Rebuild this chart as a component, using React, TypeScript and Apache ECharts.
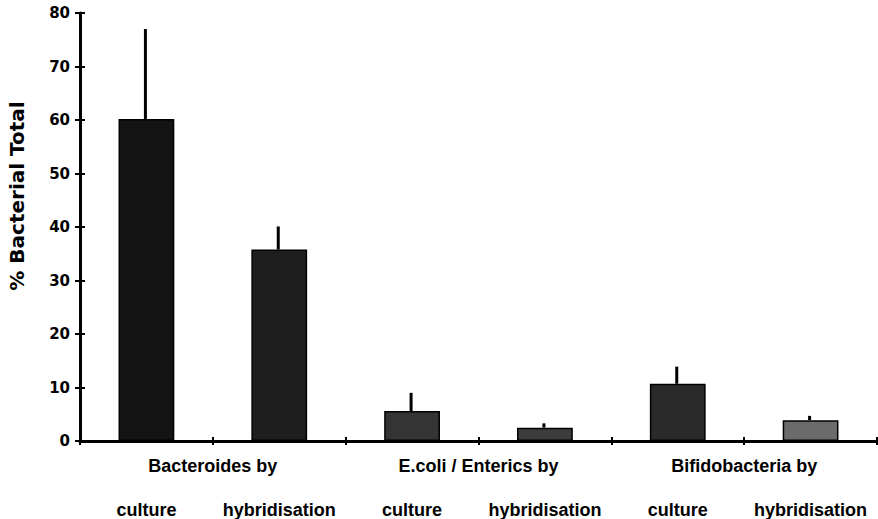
import React, { useEffect, useRef } from "react";
import * as echarts from "echarts";

const categories = ["culture", "hybridisation", "culture", "hybridisation", "culture", "hybridisation"];
const groups = ["Bacteroides by", "E.coli / Enterics by", "Bifidobacteria by"];
const means = [60.2, 35.8, 5.6, 2.5, 10.7, 3.9];
const errorTops = [77.0, 40.1, 9.0, 3.3, 13.9, 4.7];
const yTicks = [0, 10, 20, 30, 40, 50, 60, 70, 80];
const barColors = ["#141414", "#1e1e1e", "#343434", "#3c3c3c", "#2a2a2a", "#6b6b6b"];

export default function App() {
  const ref = useRef<HTMLDivElement>(null);
  useEffect(() => {
    document.body.style.margin = "0";
    const chart = echarts.init(ref.current!, null, { renderer: "svg" });
    const yMin = yTicks[0];
    const yMax = yTicks[yTicks.length - 1];
    const yInt = yTicks[1] - yTicks[0];
    const labelFont = "'Liberation Sans', Arial, sans-serif";
    const numFont = "'DejaVu Sans', sans-serif";
    chart.setOption({
      animation: false,
      backgroundColor: "#ffffff",
      grid: { left: 80, right: 1, top: 13, bottom: 77, containLabel: false },
      xAxis: [
        {
          type: "category",
          data: categories,
          position: "bottom",
          axisLine: { show: true, lineStyle: { color: "#000", width: 3 } },
          axisTick: { show: true, inside: false, length: 4, interval: 0, lineStyle: { color: "#000", width: 2 } },
          axisLabel: {
            show: true,
            interval: 0,
            margin: 60,
            color: "#000",
            fontFamily: labelFont,
            fontWeight: "bold",
            fontSize: 18,
          },
          splitLine: { show: false },
        },
        {
          type: "category",
          data: categories,
          position: "bottom",
          axisLine: { show: false },
          axisTick: { show: true, inside: true, length: 4, interval: 0, lineStyle: { color: "#000", width: 2 } },
          axisLabel: { show: false },
          splitLine: { show: false },
        },
        {
          type: "category",
          data: groups,
          position: "bottom",
          axisLine: { show: false },
          axisTick: { show: false },
          axisLabel: {
            show: true,
            interval: 0,
            margin: 16,
            color: "#000",
            fontFamily: labelFont,
            fontWeight: "bold",
            fontSize: 18,
          },
          splitLine: { show: false },
        },
      ],
      yAxis: [
        {
          type: "value",
          min: yMin,
          max: yMax,
          interval: yInt,
          axisLine: { show: true, lineStyle: { color: "#000", width: 3 } },
          axisTick: { show: true, inside: false, length: 5, lineStyle: { color: "#000", width: 2 } },
          axisLabel: {
            show: true,
            margin: 10,
            color: "#000",
            fontFamily: numFont,
            fontWeight: "bold",
            fontSize: 15,
          },
          splitLine: { show: false },
        },
        {
          type: "value",
          min: yMin,
          max: yMax,
          interval: yInt,
          position: "left",
          axisLine: { show: false },
          axisTick: { show: true, inside: true, length: 5, lineStyle: { color: "#000", width: 2 } },
          axisLabel: { show: false },
          splitLine: { show: false },
        },
      ],
      graphic: [
        {
          type: "text",
          x: 17,
          y: 196,
          rotation: Math.PI / 2,
          style: {
            text: "% Bacterial Total",
            fill: "#000",
            font: `bold 20px ${numFont}`,
            align: "center",
            verticalAlign: "middle",
          },
        },
      ],
      series: [
        {
          type: "bar",
          xAxisIndex: 0,
          yAxisIndex: 0,
          barWidth: "42%",
          data: means.map((v, i) => ({
            value: v,
            itemStyle: { color: barColors[i], borderColor: "#000", borderWidth: 1.5 },
          })),
          z: 2,
        },
        {
          type: "custom",
          xAxisIndex: 0,
          yAxisIndex: 0,
          data: means.map((v, i) => [i, v, errorTops[i]]),
          renderItem: (params: any, api: any) => {
            const i = api.value(0);
            const lo = api.coord([i, api.value(1)]);
            const hi = api.coord([i, api.value(2)]);
            return {
              type: "line",
              shape: { x1: lo[0] - 1, y1: lo[1], x2: hi[0] - 1, y2: hi[1] },
              style: { stroke: "#000", lineWidth: 3 },
            };
          },
          z: 3,
        },
      ],
    });
    return () => chart.dispose();
  }, []);
  return <div ref={ref} style={{ width: 878, height: 519 }} />;
}
